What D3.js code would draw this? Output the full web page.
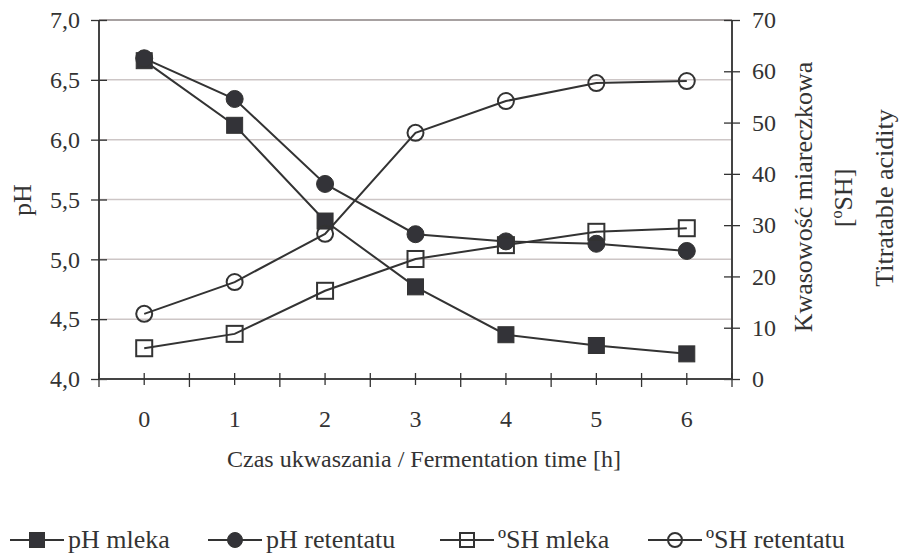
<!DOCTYPE html>
<html><head><meta charset="utf-8">
<script src="https://cdn.jsdelivr.net/npm/d3@7"></script>
<style>body{margin:0;background:#fff}svg text{font-family:"Liberation Serif","Times New Roman",serif;fill:#333}</style>
</head><body><svg id="c" width="899" height="553"></svg>
<script>
const categories = ["0","1","2","3","4","5","6"];
const phTicks = [4.0,4.5,5.0,5.5,6.0,6.5,7.0];
const shTicks = [0,10,20,30,40,50,60,70];
const phMleka = [6.66,6.12,5.32,4.77,4.37,4.28,4.21];
const phRetentatu = [6.68,6.34,5.63,5.21,5.15,5.13,5.07];
const shMleka = [6.0,8.8,17.2,23.4,26.1,28.7,29.4];
const shRetentatu = [12.7,18.9,28.3,48.0,54.2,57.7,58.1];
const seriesNames = ["pH mleka","pH retentatu","\u00BASH mleka","\u00BASH retentatu"];

const svg = d3.select("#c");
const L=99,R=732,T=20,B=379;
const x = d3.scaleBand().domain(categories).range([L,R]);
const yL = d3.scaleLinear().domain([4,7]).range([B,T]);
const yR = d3.scaleLinear().domain([0,70]).range([B,T]);
const ink="#333";
const FS=24;

// gridlines
svg.append("g").selectAll("line").data(phTicks.slice(1)).join("line")
  .attr("x1",L).attr("x2",R).attr("y1",d=>yL(d)).attr("y2",d=>yL(d))
  .attr("stroke",d=>d===7?"#8a8282":"#cdc6c6").attr("stroke-width",1.5);

// left axis
const gl = svg.append("g").attr("transform",`translate(${L},0)`)
  .call(d3.axisLeft(yL).tickValues(phTicks).tickSize(8).tickPadding(11).tickFormat(d=>d3.format(".1f")(d).replace(".",",")));
gl.selectAll(".tick line").attr("x2",-8).attr("x1",8);
// right axis
const gr = svg.append("g").attr("transform",`translate(${R},0)`)
  .call(d3.axisRight(yR).tickValues(shTicks).tickSize(8).tickPadding(12));
gr.selectAll(".tick line").attr("x1",-8);
// bottom axis
const bounds = categories.map((c,i)=>x(c)).concat([R]);
const gb = svg.append("g").attr("transform",`translate(0,${B})`)
  .call(d3.axisBottom(x).tickSize(6).tickPadding(25));
gb.selectAll(".tick line").attr("y1",-6).attr("y2",6);
gb.append("g").selectAll("line").data(bounds).join("line")
  .attr("x1",d=>d).attr("x2",d=>d).attr("y1",-6).attr("y2",8).attr("stroke",ink).attr("stroke-width",1.3);

[gl,gr,gb].forEach(g=>{
  g.attr("font-family",null).attr("font-size",null);
  g.select(".domain").attr("stroke","#444").attr("stroke-width",2);
  g.selectAll(".tick line").attr("stroke",ink).attr("stroke-width",1.3);
  g.selectAll(".tick text").attr("font-size",FS).attr("fill",ink);
});
gb.select(".domain").attr("d",`M${L},0H${R}`);
gl.select(".domain").attr("d",`M0,${B}V${T}`);
gr.select(".domain").attr("d",`M0,${B}V${T}`);

// lines
const data = [
  {v:phMleka,y:yL,m:"sq",f:true},
  {v:phRetentatu,y:yL,m:"ci",f:true},
  {v:shMleka,y:yR,m:"sq",f:false},
  {v:shRetentatu,y:yR,m:"ci",f:false}
];
const cx = i=>x(categories[i])+x.bandwidth()/2;
function marker(g,m,f,px,py,s){
  if(m==="sq"){
    g.append("rect").attr("x",px-s/2).attr("y",py-s/2).attr("width",s).attr("height",s)
      .attr("fill",f?"#333338":"none").attr("stroke",ink).attr("stroke-width",f?1:2);
  } else {
    g.append("circle").attr("cx",px).attr("cy",py).attr("r",s/2)
      .attr("fill",f?"#333338":"none").attr("stroke",ink).attr("stroke-width",f?1:2);
  }
}
data.forEach(s=>{
  const line = d3.line().x((d,i)=>cx(i)).y(d=>s.y(d));
  svg.append("path").attr("d",line(s.v)).attr("fill","none").attr("stroke",ink).attr("stroke-width",2);
});
data.forEach(s=>{
  const g = svg.append("g");
  s.v.forEach((d,i)=>marker(g,s.m,s.f,cx(i),s.y(d),s.f?(s.m==="sq"?16:17):16));
});

// titles
svg.append("text").attr("x",424).attr("y",467).attr("text-anchor","middle").attr("font-size",FS)
  .text("Czas ukwaszania / Fermentation time [h]");
svg.append("text").attr("transform","translate(31,200) rotate(-90)").attr("text-anchor","middle").attr("font-size",26).text("pH");
svg.append("text").attr("transform","translate(812,197) rotate(-90)").attr("text-anchor","middle").attr("font-size",26).text("Kwasowość miareczkowa");
const t2 = svg.append("text").attr("transform","translate(852,198) rotate(-90)").attr("text-anchor","middle").attr("font-size",26);
t2.append("tspan").text("[");
t2.append("tspan").attr("font-size",16).attr("dy",-10).text("o");
t2.append("tspan").attr("dy",10).text("SH]");
svg.append("text").attr("transform","translate(893,198) rotate(-90)").attr("text-anchor","middle").attr("font-size",26).text("Titratable acidity");

// legend
const legX = [10,208,440,648];
const lg = svg.append("g");
data.forEach((s,i)=>{
  const x0=legX[i], yy=540;
  lg.append("line").attr("x1",x0).attr("x2",x0+54).attr("y1",yy).attr("y2",yy).attr("stroke",ink).attr("stroke-width",2);
  marker(lg,s.m,s.f,x0+27,yy,s.f?15:14);
  lg.append("text").attr("x",x0+58).attr("y",yy+8).attr("font-size",26).text(seriesNames[i]);
});
</script></body></html>
